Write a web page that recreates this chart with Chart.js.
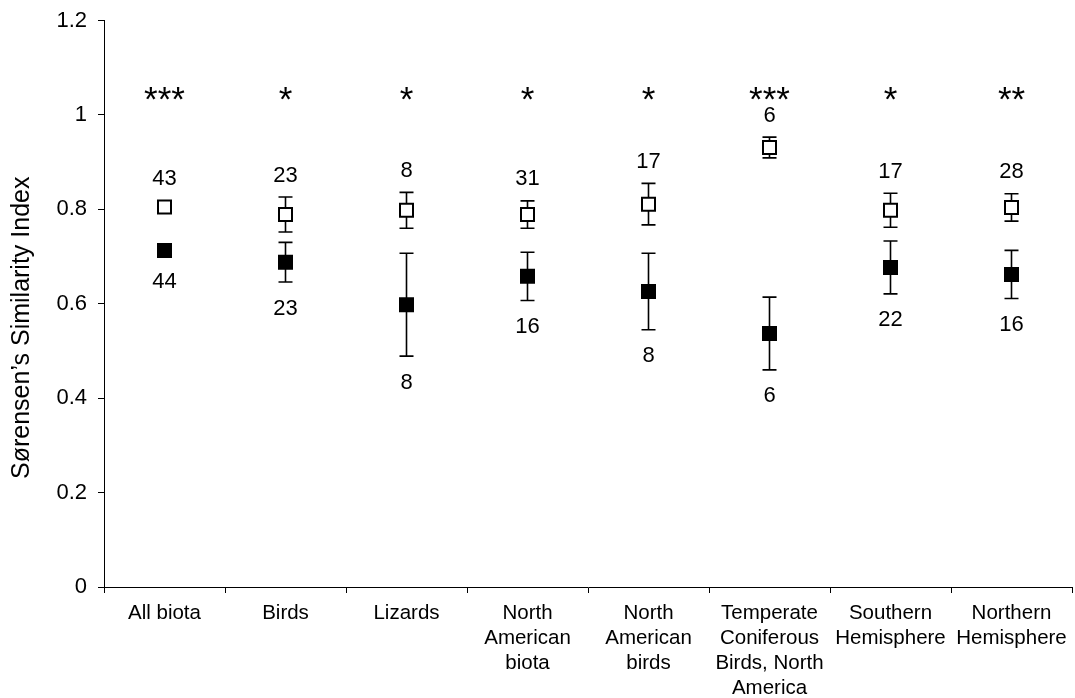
<!DOCTYPE html>
<html>
<head>
<meta charset="utf-8">
<script src="https://cdn.jsdelivr.net/npm/chart.js@4/dist/chart.umd.min.js"></script>
<style>
  html, body { margin: 0; padding: 0; background: #fff; }
  #c { display: block; }
</style>
</head>
<body>
<canvas id="c" width="1075" height="698"></canvas>
<script>
// Category labels (multi-line)
const categories = [
  ['All biota'],
  ['Birds'],
  ['Lizards'],
  ['North', 'American', 'biota'],
  ['North', 'American', 'birds'],
  ['Temperate', 'Coniferous', 'Birds, North', 'America'],
  ['Southern', 'Hemisphere'],
  ['Northern', 'Hemisphere']
];

// Open squares: mean index and standard error
const openMean = [0.805, 0.789, 0.798, 0.789, 0.811, 0.931, 0.798, 0.804];
const openErr  = [0.000, 0.037, 0.038, 0.029, 0.044, 0.022, 0.036, 0.029];
// Filled squares: mean index and standard error
const filledMean = [0.713, 0.688, 0.598, 0.658, 0.626, 0.537, 0.677, 0.662];
const filledErr  = [0.000, 0.042, 0.109, 0.051, 0.081, 0.077, 0.056, 0.051];

// Sample sizes shown next to each marker
const openN   = [43, 23, 8, 31, 17, 6, 17, 28];
const filledN = [44, 23, 8, 16, 8, 6, 22, 16];

// Significance stars and the level they sit at
const sigLabels = ['***', '*', '*', '*', '*', '***', '*', '**'];
const sigLevel = 1.045;

// Y axis ticks and title
const yTicks = [0, 0.2, 0.4, 0.6, 0.8, 1, 1.2];
const yTitle = 'Sørensen\u2019s Similarity Index';

const FONT = '"Liberation Sans", Arial, Helvetica, sans-serif';

function drawCentered(ctx, text, x, y, font) {
  ctx.font = font;
  const m = ctx.measureText(text);
  const asc = m.actualBoundingBoxAscent, desc = m.actualBoundingBoxDescent;
  ctx.textAlign = 'center';
  ctx.textBaseline = 'alphabetic';
  ctx.fillText(text, x, y + (asc - desc) / 2);
}

const annotate = {
  id: 'annotate',
  beforeDatasetsDraw(chart) {
    const { ctx, scales: { x, y } } = chart;
    const series = [[openMean, openErr], [filledMean, filledErr]];
    ctx.save();
    ctx.strokeStyle = '#000';
    ctx.lineWidth = 1.6;
    for (const [mean, err] of series) {
      mean.forEach((m, i) => {
        if (!err[i]) return;
        const px = x.getPixelForValue(i);
        const top = y.getPixelForValue(m + err[i]);
        const bot = y.getPixelForValue(m - err[i]);
        ctx.beginPath();
        ctx.moveTo(px, top); ctx.lineTo(px, bot);
        ctx.moveTo(px - 7, top); ctx.lineTo(px + 7, top);
        ctx.moveTo(px - 7, bot); ctx.lineTo(px + 7, bot);
        ctx.stroke();
      });
    }
    ctx.restore();
  },
  afterDatasetsDraw(chart) {
    const { ctx, scales: { x, y } } = chart;
    ctx.save();
    ctx.fillStyle = '#000';
    categories.forEach((c, i) => {
      const px = x.getPixelForValue(i);
      // n above the open marker
      const topEdge = Math.min(y.getPixelForValue(openMean[i] + openErr[i]), y.getPixelForValue(openMean[i]) - 6);
      drawCentered(ctx, String(openN[i]), px, topEdge - 23, '22px ' + FONT);
      // n below the filled marker
      const botEdge = Math.max(y.getPixelForValue(filledMean[i] - filledErr[i]), y.getPixelForValue(filledMean[i]) + 5);
      drawCentered(ctx, String(filledN[i]), px, botEdge + 25, '22px ' + FONT);
      // significance stars
      drawCentered(ctx, sigLabels[i], px, y.getPixelForValue(sigLevel), '35px ' + FONT);
    });
    // rotated y axis title, sitting a little below the plot's middle
    const cy = (chart.chartArea.top + chart.chartArea.bottom) / 2 + 24;
    ctx.translate(22, cy);
    ctx.rotate(-Math.PI / 2);
    drawCentered(ctx, yTitle, 0, 0, '25px ' + FONT);
    ctx.restore();
  }
};

new Chart(document.getElementById('c'), {
  type: 'line',
  data: {
    labels: categories,
    datasets: [
      {
        data: openMean,
        showLine: false,
        pointStyle: 'rect',
        pointRadius: 9.2,
        pointBorderWidth: 2,
        pointBorderColor: '#000',
        pointBackgroundColor: '#fff'
      },
      {
        data: filledMean,
        showLine: false,
        pointStyle: 'rect',
        pointRadius: 9.2,
        pointBorderWidth: 2,
        pointBorderColor: '#000',
        pointBackgroundColor: '#000'
      }
    ]
  },
  plugins: [annotate],
  options: {
    responsive: false,
    animation: false,
    events: [],
    layout: { autoPadding: false, padding: { top: 20.5, right: 3, left: 0, bottom: 0 } },
    plugins: { legend: { display: false }, tooltip: { enabled: false } },
    scales: {
      x: {
        type: 'category',
        offset: true,
        grid: {
          offset: true,
          drawOnChartArea: false,
          drawTicks: true,
          tickLength: 6,
          color: '#000',
          lineWidth: 1
        },
        border: { display: true, color: '#000', width: 1 },
        ticks: {
          color: '#000',
          font: { family: FONT, size: 20.5, lineHeight: 1.22 },
          padding: 8,
          maxRotation: 0,
          autoSkip: false
        },
        afterFit(scale) {
          scale.height = 111;
          scale.paddingLeft = 0;
          scale.paddingRight = 0;
        }
      },
      y: {
        min: 0,
        max: 1.2,
        afterBuildTicks(scale) { scale.ticks = yTicks.map(v => ({ value: v })); },
        grid: {
          drawOnChartArea: false,
          drawTicks: true,
          tickLength: 6,
          color: '#000',
          lineWidth: 1
        },
        border: { display: true, color: '#000', width: 1 },
        ticks: {
          color: '#000',
          font: { family: FONT, size: 22 },
          padding: 11,
          callback: (v) => String(Math.round(v * 10) / 10)
        },
        afterFit(scale) {
          scale.width = 104;
          scale.paddingTop = 0;
          scale.paddingBottom = 0;
        }
      }
    }
  }
});
</script>
</body>
</html>
